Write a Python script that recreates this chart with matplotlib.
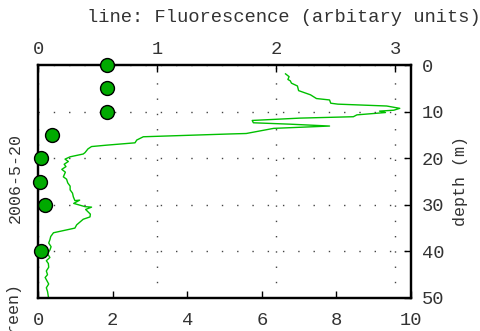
import matplotlib
matplotlib.use('Agg')
import matplotlib.pyplot as plt
import numpy as np

# points (bottom axis, 0-10)
point_depth = [0, 5, 10, 15, 20, 25, 30, 40]
point_value = [1.85, 1.85, 1.85, 0.37, 0.08, 0.05, 0.2, 0.08]

# fluorescence line (top axis, arbitrary units)
fluo_depth = [1.9, 2.5, 3.1, 3.4, 3.9, 4.5, 5.5, 6.4, 7.2, 7.5, 8.2, 8.4, 8.8, 9.3,
              9.7, 9.9, 10.2, 10.7, 11.1, 11.4, 11.9, 12.4, 12.7, 13.1, 13.6, 14.7,
              14.8, 15.4, 16.1, 16.7, 17.2, 17.5, 18.0, 18.8, 19.1, 19.7, 20.2, 20.7,
              21.3, 21.8, 22.4, 23.0, 24.0, 24.5, 25.3, 26.0, 26.8, 27.5, 28.3, 29.1,
              29.0, 29.7, 30.4, 30.5, 31.0, 31.5, 32.0, 32.6, 33.1, 34.3, 35.0, 36.0,
              36.8, 37.5, 38.2, 39.0, 39.7, 40.5, 41.3, 42.0, 42.6, 43.4, 44.2, 45.0,
              45.6, 46.2, 47.0, 47.8, 48.6, 49.7]
fluo_value = [2.08, 2.11, 2.10, 2.12, 2.13, 2.18, 2.19, 2.29, 2.34, 2.45, 2.46, 2.52, 2.93, 3.04,
              2.99, 2.87, 2.92, 2.68, 2.65, 2.20, 1.80, 1.81, 2.12, 2.45, 1.98, 1.75,
              1.61, 0.885, 0.83, 0.815, 0.577, 0.45, 0.42, 0.395, 0.38, 0.27, 0.227, 0.255,
              0.22, 0.235, 0.20, 0.23, 0.213, 0.24, 0.25, 0.27, 0.27, 0.29, 0.297, 0.31,
              0.35, 0.30, 0.395, 0.45, 0.40, 0.42, 0.44, 0.437, 0.38, 0.325, 0.31, 0.13,
              0.107, 0.10, 0.09, 0.11, 0.10, 0.08, 0.10, 0.07, 0.087, 0.09, 0.07, 0.08,
              0.06, 0.073, 0.09, 0.07, 0.08, 0.087]

plt.rcParams['font.family'] = ['Liberation Mono', 'DejaVu Sans']
txt = '#333333'

fig = plt.figure(figsize=(4.8, 3.31), dpi=100)
ax = fig.add_axes([38/480, 1-298/331, 373/480, 233/331])
ax2 = ax.twiny()

ax2.plot(fluo_value, fluo_depth, color='#00c000', lw=1)
ax2.set_xlim(0, 373/119)
ax2.set_xticks([0, 1, 2, 3])
ax2.tick_params(axis='x', direction='in', length=5, width=1, labelsize=13.5, labelcolor=txt, pad=5)
ax2.grid(axis='x', color='#444444', ls=(0, (1, 10)), lw=1)

ax.plot(point_value, point_depth, 'o', ms=10, mfc='#00aa00', mec='black', mew=1, clip_on=False, zorder=5)
ax.set_xlim(0, 10)
ax.set_ylim(50, 0)
ax.set_xticks([0, 2, 4, 6, 8, 10])
ax.set_yticks([0, 10, 20, 30, 40, 50])
ax.yaxis.tick_right()
ax.yaxis.set_label_position('right')
ax.tick_params(axis='x', direction='in', length=5, width=1, labelsize=13.5, labelcolor=txt, pad=10)
ax.tick_params(axis='y', direction='in', length=5, width=1, labelsize=13.5, labelcolor=txt, pad=8)
ax.grid(axis='y', color='#444444', ls=(0, (1, 10)), lw=1)
ax.set_ylabel('depth (m)', color=txt, fontsize=12, labelpad=6)
ax.set_zorder(ax2.get_zorder() + 1)
ax.patch.set_visible(False)

for a in (ax, ax2):
    for s in a.spines.values():
        s.set_linewidth(1.6)

fig.text(284/480, 1-17/331, 'line: Fluorescence (arbitary units)', ha='center', va='center',
         fontsize=13.5, color=txt)
fig.text(15/480, 1-178/331, '2006-5-20', rotation=90, ha='center', va='center', fontsize=12, color=txt)
fig.text(15/480, 1-284/331, 'points: (green)', rotation=90, ha='center', va='top', fontsize=12, color=txt)

fig.savefig('out.png', dpi=100)
